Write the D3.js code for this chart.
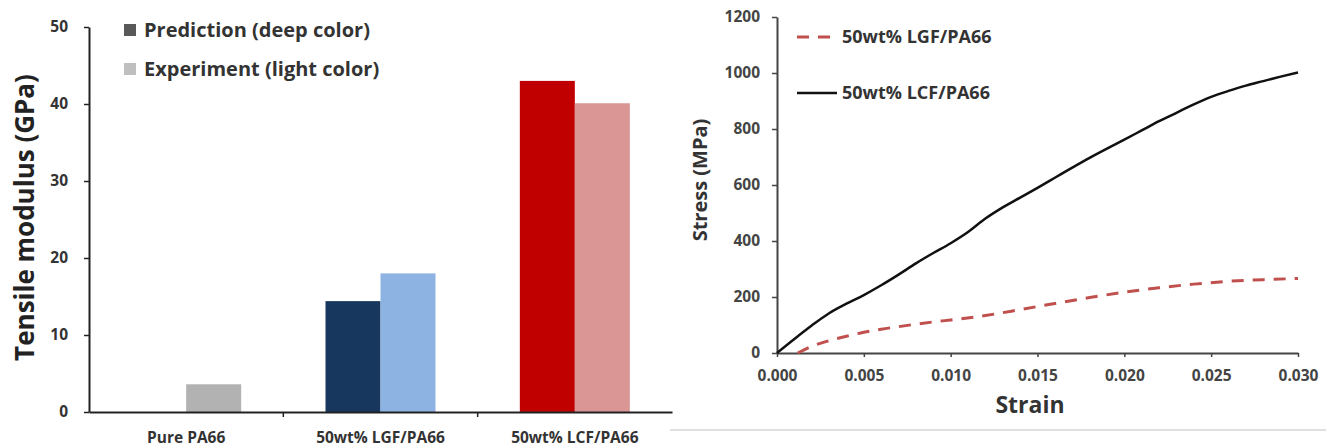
<!DOCTYPE html>
<html>
<head>
<meta charset="UTF-8">
<script src="https://d3js.org/d3.v7.min.js"></script>
<style>
  body { margin: 0; background: #fff; }
  text { font-family: "Open Sans", Lato, sans-serif; font-weight: bold; }
</style>
</head>
<body>
<svg id="chart" width="1326" height="447"></svg>
<script>
// left panel: tensile modulus
const materials = ["Pure PA66", "50wt% LGF/PA66", "50wt% LCF/PA66"];
const predicted = [null, 14.4, 43.0];
const measured = [3.6, 18.0, 40.1];
const deepColors = ["#595959", "#17375e", "#c00000"];
const lightColors = ["#b2b2b2", "#8db3e2", "#d99694"];
const modulusTicks = [0, 10, 20, 30, 40, 50];

// right panel: stress-strain
const strainLCF = [0, 0.001, 0.002, 0.003, 0.004, 0.005, 0.006, 0.007, 0.008, 0.009, 0.010, 0.011, 0.012, 0.013, 0.014, 0.015, 0.016, 0.017, 0.018, 0.019, 0.020, 0.021, 0.022, 0.023, 0.024, 0.025, 0.026, 0.027, 0.028, 0.029, 0.030];
const stressLCF = [0, 50, 98, 142, 176, 207, 242, 280, 320, 357, 392, 432, 480, 520, 555, 590, 626, 662, 697, 730, 762, 795, 828, 858, 888, 915, 936, 955, 971, 987, 1002];
const strainLGF = [0.0012, 0.002, 0.003, 0.004, 0.005, 0.006, 0.007, 0.008, 0.009, 0.010, 0.012, 0.014, 0.016, 0.018, 0.020, 0.022, 0.024, 0.026, 0.028, 0.030];
const stressLGF = [0, 24, 44, 60, 74, 85, 94, 103, 111, 118, 134, 155, 177, 198, 217, 233, 246, 256, 262, 266];
const strainTicks = [0, 0.005, 0.010, 0.015, 0.020, 0.025, 0.030];
const stressTicks = [0, 200, 400, 600, 800, 1000, 1200];

const svg = d3.select("#chart");

// ---------- left bar chart ----------
const L = { left: 89, right: 672, top: 27, bottom: 412 };
const x0 = d3.scaleBand().domain(materials).range([L.left, L.right]);
const y0 = d3.scaleLinear().domain([0, 50]).range([L.bottom, L.top]);
const barW = 55;

const left = svg.append("g");

materials.forEach((m, i) => {
  const cx = x0(m) + x0.bandwidth() / 2;
  if (predicted[i] != null) {
    left.append("rect")
      .attr("x", cx - barW).attr("y", y0(predicted[i]))
      .attr("width", barW).attr("height", y0(0) - y0(predicted[i]))
      .attr("fill", deepColors[i]);
  }
  left.append("rect")
    .attr("x", cx).attr("y", y0(measured[i]))
    .attr("width", barW).attr("height", y0(0) - y0(measured[i]))
    .attr("fill", lightColors[i]);
});

const yAxisL = left.append("g")
  .attr("transform", `translate(${L.left},0)`)
  .call(d3.axisLeft(y0).tickValues(modulusTicks).tickSize(5).tickPadding(16).tickSizeOuter(0));
yAxisL.select(".domain").attr("stroke", "#222").attr("stroke-width", 2);
yAxisL.selectAll(".tick line").attr("stroke", "#222").attr("stroke-width", 1.5);
yAxisL.selectAll(".tick text").attr("font-size", 15.5).attr("fill", "#333");

const xAxisL = left.append("g")
  .attr("transform", `translate(0,${L.bottom})`)
  .call(d3.axisBottom(x0).tickSize(0).tickPadding(20).tickSizeOuter(0));
xAxisL.select(".domain").attr("stroke", "#222").attr("stroke-width", 2);
xAxisL.selectAll(".tick text").attr("font-size", 15.5).attr("fill", "#333");
// small ticks between categories
xAxisL.selectAll(".sep").data(materials.slice(1)).enter().append("line")
  .attr("x1", d => x0(d)).attr("x2", d => x0(d))
  .attr("y1", 0).attr("y2", 5)
  .attr("stroke", "#222").attr("stroke-width", 1.5);

left.append("text")
  .attr("transform", `translate(25,${(78 + 357) / 2}) rotate(-90)`)
  .attr("text-anchor", "middle").attr("dy", "0.35em")
  .attr("font-size", 26).attr("fill", "#222")
  .text("Tensile modulus (GPa)");

const legL = [["Prediction (deep color)", "#595959"], ["Experiment (light color)", "#bfbfbf"]];
legL.forEach((d, i) => {
  const yy = 30 + i * 39;
  left.append("rect").attr("x", 124).attr("y", yy - 6).attr("width", 12).attr("height", 12).attr("fill", d[1]);
  left.append("text").attr("x", 144).attr("y", yy).attr("dy", "0.35em")
    .attr("font-size", 20).attr("fill", "#333").text(d[0]);
});

// ---------- right line chart ----------
const R = { left: 777, right: 1298, top: 17, bottom: 353 };
const x1 = d3.scaleLinear().domain([0, 0.03]).range([R.left, R.right]);
const y1 = d3.scaleLinear().domain([0, 1200]).range([R.bottom, R.top]);

const right = svg.append("g");

const xAxisR = right.append("g")
  .attr("transform", `translate(0,${R.bottom})`)
  .call(d3.axisBottom(x1).tickValues(strainTicks).tickFormat(d3.format(".3f")).tickSize(4).tickPadding(13).tickSizeOuter(0));
xAxisR.select(".domain").attr("stroke", "#444").attr("stroke-width", 2);
xAxisR.selectAll(".tick line").attr("stroke", "#444").attr("stroke-width", 1.5);
xAxisR.selectAll(".tick text").attr("font-size", 15.5).attr("fill", "#444");

const yAxisR = right.append("g")
  .attr("transform", `translate(${R.left},0)`)
  .call(d3.axisLeft(y1).tickValues(stressTicks).tickFormat(d3.format("d")).tickSize(5).tickPadding(12).tickSizeOuter(0));
yAxisR.select(".domain").attr("stroke", "#444").attr("stroke-width", 2);
yAxisR.selectAll(".tick line").attr("stroke", "#444").attr("stroke-width", 1.5);
yAxisR.selectAll(".tick text").attr("font-size", 15.5).attr("fill", "#444");

const line = d3.line().x(d => x1(d[0])).y(d => y1(d[1])).curve(d3.curveMonotoneX);

right.append("path")
  .datum(strainLGF.map((s, i) => [s, stressLGF[i]]))
  .attr("d", line).attr("fill", "none")
  .attr("stroke", "#c0504d").attr("stroke-width", 3)
  .attr("stroke-dasharray", "12,9");

right.append("path")
  .datum(strainLCF.map((s, i) => [s, stressLCF[i]]))
  .attr("d", line).attr("fill", "none")
  .attr("stroke", "#111").attr("stroke-width", 2.5);

right.append("text")
  .attr("x", 1030).attr("y", 405).attr("dy", "0.35em")
  .attr("text-anchor", "middle").attr("font-size", 23).attr("fill", "#333")
  .text("Strain");

right.append("text")
  .attr("transform", `translate(700,180) rotate(-90)`)
  .attr("text-anchor", "middle").attr("dy", "0.35em")
  .attr("font-size", 20).attr("fill", "#333")
  .text("Stress (MPa)");

const legR = [["50wt% LGF/PA66", "#c0504d", "12,9"], ["50wt% LCF/PA66", "#111", null]];
legR.forEach((d, i) => {
  const yy = 37 + i * 56;
  right.append("line").attr("x1", 797).attr("x2", 837).attr("y1", yy).attr("y2", yy)
    .attr("stroke", d[1]).attr("stroke-width", d[2] ? 3 : 2.5)
    .attr("stroke-dasharray", d[2]);
  right.append("text").attr("x", 842).attr("y", yy).attr("dy", "0.35em")
    .attr("font-size", 18).attr("fill", "#333").text(d[0]);
});

// light frame line under right panel
svg.append("line").attr("x1", 670).attr("x2", 1326).attr("y1", 430).attr("y2", 430)
  .attr("stroke", "#e0e0e0").attr("stroke-width", 2);
</script>
</body>
</html>
